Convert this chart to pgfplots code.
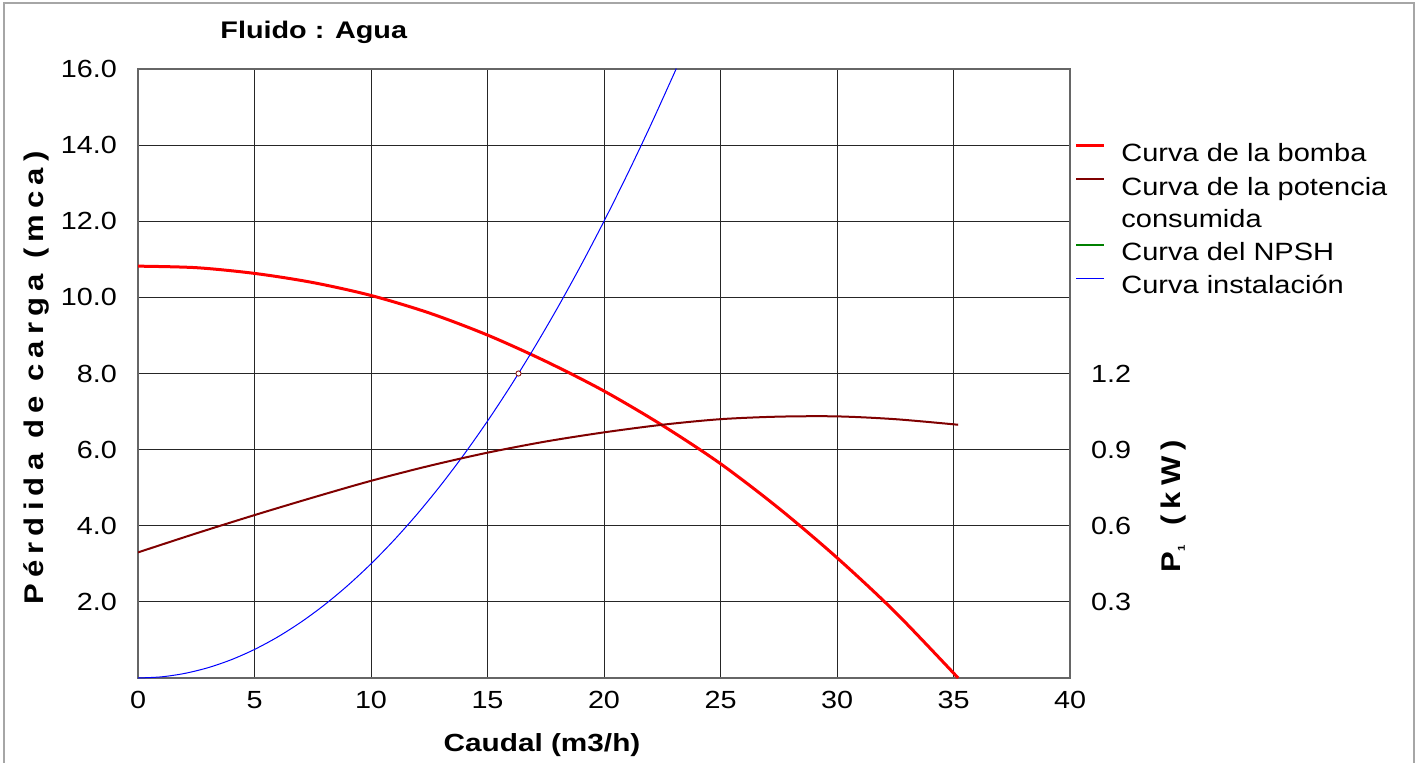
\documentclass[border=0pt]{standalone}
\usepackage{fontspec}
\setmainfont{Liberation Sans}[FakeStretch=1.16, BoldFeatures={FakeStretch=1.2}]
\newfontfamily\spacedbold{Liberation Sans Bold}[FakeStretch=1.15, LetterSpace=23]
\usepackage{pgfplots}
\usepackage{pgfplotstable}
\pgfplotsset{compat=1.18}
\definecolor{pdark}{RGB}{128,0,0}
\definecolor{ngreen}{RGB}{0,128,0}

\pgfplotstableread{
q h
0 10.82
2.5 10.78
5 10.63
7.5 10.39
10 10.05
12.5 9.59
15 9.01
17.5 8.32
20 7.54
22.5 6.64
25 5.63
27.5 4.46
30 3.16
32.5 1.73
35.2 0.00
}\bomba

\pgfplotstableread{
q p
0 0.495
2.5 0.570
5 0.642
7.5 0.711
10 0.777
12.5 0.836
15 0.888
17.5 0.932
20 0.968
22.5 0.998
25 1.020
27.5 1.030
30 1.031
32.5 1.020
35.2 0.998
}\potencia

\pgfplotstableread{
q h
0 0
1 0.03
2 0.12
3 0.27
4 0.48
5 0.75
6 1.08
7 1.47
8 1.92
9 2.43
10 3.00
11 3.63
12 4.32
13 5.07
14 5.88
15 6.75
16 7.68
17 8.67
18 9.72
19 10.83
20 12.00
21 13.23
22 14.52
23 15.87
23.09 16.00
}\instalacion

\begin{document}
\begin{tikzpicture}
\useasboundingbox (0,0) rectangle (712pt,381pt);
\draw[gray!70, line width=0.8pt] (2pt,-1pt) -- (2pt,379.5pt) -- (707pt,379.5pt) -- (707pt,-1pt);
\node[anchor=west, inner sep=0pt, font=\bfseries\fontsize{12}{14}\selectfont] at (110pt,365pt) {Fluido : Agua};

\begin{axis}[
  at={(69pt,42pt)}, anchor=south west, scale only axis,
  width=466pt, height=304.5pt,
  xmin=0, xmax=40, ymin=0, ymax=16,
  xtick={0,5,...,40}, ytick={2,4,...,16},
  grid=major, major grid style={black!85, line width=0.5pt},
  axis line style={gray!80!black, line width=0.75pt},
  major tick length=0pt,
  /pgf/number format/assume math mode=true,
  tick label style={font=\fontsize{12.4}{14}\selectfont},
  yticklabel style={/pgf/number format/fixed, /pgf/number format/fixed zerofill, /pgf/number format/precision=1, xshift=-7pt},
  xticklabel style={yshift=-3pt},
  clip=true,
]
\addplot[red, line width=1.5pt, smooth] table[x=q, y=h] {\bomba};
\addplot[blue, line width=0.5pt, smooth] table[x=q, y=h] {\instalacion};
\end{axis}

\begin{axis}[
  at={(69pt,42pt)}, anchor=south west, scale only axis,
  width=466pt, height=304.5pt,
  xmin=0, xmax=40, ymin=0, ymax=2.4,
  axis x line=none, axis y line*=right,
  ytick={0.3,0.6,0.9,1.2},
  axis line style={gray!80!black, line width=0.75pt},
  major tick length=0pt,
  /pgf/number format/assume math mode=true,
  tick label style={font=\fontsize{12.4}{14}\selectfont},
  yticklabel style={/pgf/number format/fixed, /pgf/number format/fixed zerofill, /pgf/number format/precision=1, xshift=7pt},
]
\addplot[pdark, line width=1pt, smooth] table[x=q, y=p] {\potencia};
\addplot[only marks, mark=*, mark size=1.3pt, mark options={fill=white, draw=pdark, line width=0.4pt}] coordinates {(16.33,1.2)};
\end{axis}

% axis titles
\node[font=\bfseries\fontsize{12.4}{14}\selectfont] at (271pt,8.5pt) {Caudal (m3/h)};
\node[rotate=90, font=\spacedbold\fontsize{13.5}{14}\selectfont] at (18pt,192pt) {Pérdida de carga (mca)};
\node[rotate=90, font=\spacedbold\fontsize{13.5}{14}\selectfont] at (587pt,128pt) {P\raisebox{-2pt}{\fontsize{5}{5}\selectfont 1} \,(kW)};

% legend
\begin{scope}[font=\fontsize{12.5}{14}\selectfont]
\draw[red, line width=1.5pt] (538pt,308pt) -- (552pt,308pt);
\node[anchor=base west, inner sep=0pt] at (560.5pt,300pt) {Curva de la bomba};
\draw[pdark, line width=1pt] (538pt,291.3pt) -- (552pt,291.3pt);
\node[anchor=base west, inner sep=0pt] at (560.5pt,283.5pt) {Curva de la potencia};
\node[anchor=base west, inner sep=0pt] at (560.5pt,267.5pt) {consumida};
\draw[ngreen, line width=0.65pt] (538pt,258.5pt) -- (552pt,258.5pt);
\node[anchor=base west, inner sep=0pt] at (560.5pt,251pt) {Curva del NPSH};
\draw[blue, line width=0.5pt] (538pt,242pt) -- (552pt,242pt);
\node[anchor=base west, inner sep=0pt] at (560.5pt,234.5pt) {Curva instalación};
\end{scope}
\end{tikzpicture}
\end{document}
